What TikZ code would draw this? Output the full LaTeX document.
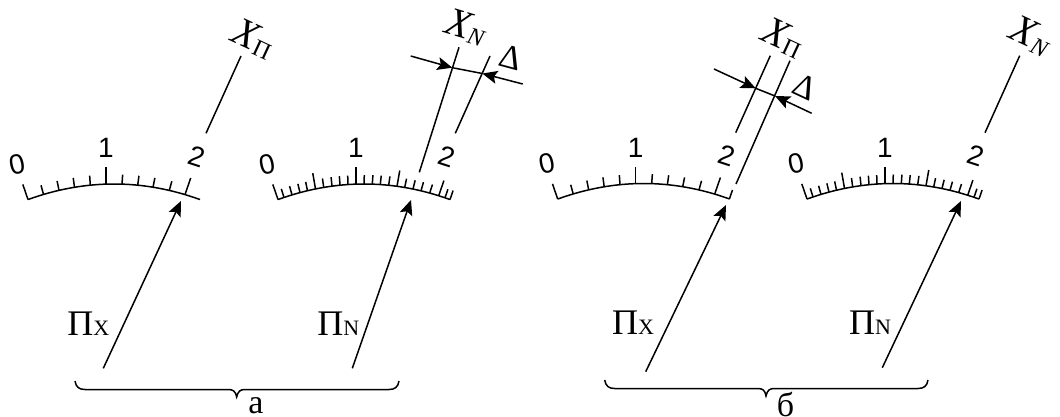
\documentclass[tikz,border=0pt]{standalone}
\usepackage{fontspec}
\setmainfont{Liberation Serif}
\newfontfamily\digitfont{Liberation Sans}
\usetikzlibrary{arrows.meta}
\newcommand{\fsz}[1]{\fontsize{#1}{#1}\selectfont}
\newcommand{\xlabel}[1]{{\fsz{40}\itshape X}\raisebox{-3pt}{\fsz{24}#1}}
\newcommand{\plabel}[1]{{\fsz{36}П}{\fsz{22}#1}}
\newcommand{\gauge}[4]{%
  \begin{scope}[shift={(#1,#2)}]
    \draw[thinline] (-78,15.54) .. controls (-20.67,-5.18) and (36.67,-5.18) .. (94,15.54);
    \foreach \tkd/\tkl in {#3}{
      \pgfmathsetmacro\tky{(\tkd-8)*(\tkd-8)/476}
      \pgfmathsetmacro\tka{max(-19,min(19,0.243*\tkd))}
      \draw[thinline] (\tkd,\tky) -- ++({\tkl*sin(\tka)},{-\tkl*cos(\tka)});
    }
    \node[digit,rotate=12] (#4z) at (-89,-20) {0};
    \node[digit] (#4o) at (0,-36) {1};
    \node[digit,rotate=-18] (#4t) at (91,-27.5) {2};
  \end{scope}}
\tikzset{
  thinline/.style={line width=1.5pt},
  pointer/.style={line width=1.5pt,-{Stealth[length=15pt,width=13pt,inset=3pt]}},
  digit/.style={inner sep=0pt,font=\digitfont\fsz{28}},
  lbl/.style={inner sep=0pt},
  bracex/.style={line width=1.5pt}
}
\begin{document}
\begin{tikzpicture}[x=1pt,y=-1pt]
\useasboundingbox (0,0) rectangle (1060,417);
% gauges
\gauge{106}{184}{-78/16,-62.5/9.5,-47/9.5,-31.5/9.5,-15.7/9.5,0/17,16/9.5,31.7/9.5,47/9.5,63.3/9.5,79/17.5}{ga}
\gauge{356}{184}{-78/16,-72/9,-64/9,-56/9,-48.5/9,-40.5/16,-32.3/9,-24/9,-16/9,-8/9,0/17,8/9,16.3/9,24.3/9,32.7/9,41/16,48.7/9,57/9,65/9,73.7/9,82.7/16,89/9,94/9.5}{gb}
\gauge{635.7}{183.5}{-78/16,-62.5/9.5,-47/9.5,-31.5/9.5,-15.7/9.5,0/17,16/9.5,31.7/9.5,47/9.5,63.3/9.5,79/17.5,93.7/9.5}{gc}
\gauge{885}{183.5}{-78/16,-72/9,-64/9,-56/9,-48.5/9,-40.5/16,-32.3/9,-24/9,-16/9,-8/9,0/17,8/9,16.3/9,24.3/9,32.7/9,41/16,48.7/9,57/9,65/9,73.7/9,82.7/16,89/9,94/9.5}{gd}
% coordinates
\coordinate (a1) at (103.3,368.3); \coordinate (a1t) at (181,201);
\coordinate (a2) at (352.3,368.3); \coordinate (a2t) at (411,200);
\coordinate (b1) at (645.7,371.7); \coordinate (b1t) at (726,205);
\coordinate (b2) at (882.3,367.7); \coordinate (b2t) at (961,201);
\coordinate (l1a) at (206,133.3); \coordinate (l1b) at (241,56);
\coordinate (l2a) at (419.3,172.3); \coordinate (l2b) at (459,47.3);
\coordinate (l3a) at (455.3,133.3); \coordinate (l3b) at (490,56);
\coordinate (l4a) at (735.7,132.7); \coordinate (l4b) at (770.3,55.7);
\coordinate (l5a) at (736,184); \coordinate (l5b) at (790,60.7);
\coordinate (l6a) at (985,132.7); \coordinate (l6b) at (1019.7,55.7);
\coordinate (d1s) at (410.7,56); \coordinate (d1t) at (452.3,67.7);
\coordinate (d2s) at (522.7,84); \coordinate (d2t) at (482.3,73.5);
\coordinate (e1s) at (714,69); \coordinate (e1t) at (755.7,88.3);
\coordinate (e2s) at (811.7,113.3); \coordinate (e2t) at (775,96);
% pointers
\draw[pointer] (a1) -- (a1t);
\draw[pointer] (a2) -- (a2t);
\draw[pointer] (b1) -- (b1t);
\draw[pointer] (b2) -- (b2t);
% indicator lines
\draw[thinline] (l1a) -- (l1b);
\draw[thinline] (l2a) -- (l2b);
\draw[thinline] (l3a) -- (l3b);
\draw[thinline] (l4a) -- (l4b);
\draw[thinline] (l5a) -- (l5b);
\draw[thinline] (l6a) -- (l6b);
% dimension arrows
\draw[pointer] (d1s) -- (d1t);
\draw[pointer] (d2s) -- (d2t);
\draw[thinline] (d1t) -- (d2t);
\draw[pointer] (e1s) -- (e1t);
\draw[pointer] (e2s) -- (e2t);
\draw[thinline] (e1t) -- (e2t);
% labels
\node[lbl,rotate=-25] (x1) at (253.5,38.5) {\xlabel{П}};
\node[lbl,rotate=-17] (x2) at (466,27.5) {\xlabel{\itshape N}};
\node[lbl,rotate=-25] (x3) at (783,38) {\xlabel{П}};
\node[lbl,rotate=-25] (x4) at (1031,36) {\xlabel{\itshape N}};
\node[lbl,rotate=-15,font=\fsz{34}] (da) at (510.5,57.5) {Δ};
\node[lbl,rotate=-25,font=\fsz{34}] (db) at (805.5,87) {Δ};
\node[lbl] (p1) at (88.3,324) {\plabel{X}};
\node[lbl] (p2) at (338.3,324) {\plabel{N}};
\node[lbl] (p3) at (633,323) {\plabel{X}};
\node[lbl] (p4) at (870,323) {\plabel{N}};
% braces
\draw[bracex] (75,381) .. controls (76,387) and (79,389.5) .. (85,389.5) -- (228,389.5) .. controls (233,389.5) and (235.5,391) .. (236.7,397) .. controls (238,391) and (240.5,389.5) .. (245,389.5) -- (389,389.5) .. controls (395,389.5) and (398,387) .. (399,381);
\draw[bracex] (604.7,380) .. controls (605.7,386) and (608.7,388.5) .. (614.7,388.5) -- (757.5,388.5) .. controls (762.5,388.5) and (765,390) .. (766,396) .. controls (767.3,390) and (769.8,388.5) .. (774.5,388.5) -- (918,388.5) .. controls (924,388.5) and (927,386) .. (928,380);
\node[lbl,font=\fsz{34}] (ca) at (256,406) {а};
\node[lbl,font=\fsz{34}] (cb) at (785.5,404) {б};
\end{tikzpicture}
\end{document}
